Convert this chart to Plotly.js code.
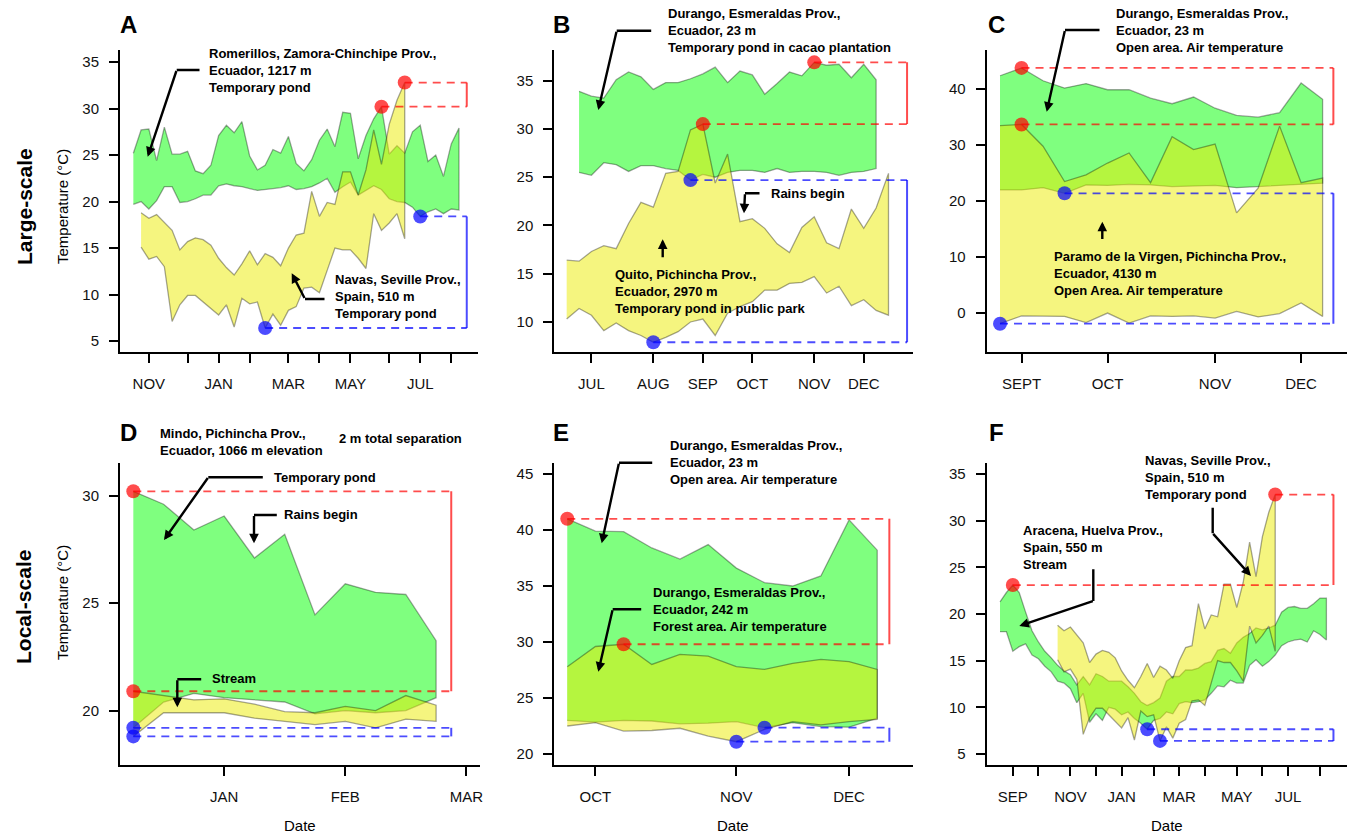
<!DOCTYPE html>
<html><head><meta charset="utf-8">
<script src="https://cdn.plot.ly/plotly-3.0.1.min.js"></script>
<style>html,body{margin:0;padding:0;background:#fff}#chart{width:1351px;height:834px}</style>
</head><body><div id="chart"></div>
<script>
// ---------------- DATA (weekly samples, temperatures in °C) ----------------
// Panel A / F: Navas, Seville Prov., Spain – temporary pond
const navasMax = [18.8,18.2,18.6,17.7,16.9,14.8,15.7,16.1,15.9,15.3,13.9,12.9,12.1,13.3,14.7,13.2,14.4,14.0,13.1,15.0,16.4,16.6,21.1,18.4,19.9,19.7,23.2,23.2,20.7,23.4,27.7,24.0,28.3,30.9,32.8];
const navasMin = [15.1,13.8,14.1,13.0,7.1,8.9,9.9,9.9,9.3,8.5,7.8,8.9,6.5,9.6,9.0,9.2,6.4,7.9,6.7,8.3,8.7,10.7,10.8,10.2,12.6,15.0,14.8,14.8,13.9,12.8,18.7,16.9,17.7,18.7,16.0];
// Panel A: Romerillos, Zamora-Chinchipe Prov., Ecuador – temporary pond
const romerillosMax = [25.2,27.7,27.8,24.4,28.0,25.1,25.1,25.4,23.3,23.0,23.9,27.1,28.2,27.4,28.6,24.9,23.4,23.9,25.6,25.2,27.0,24.1,23.3,24.5,26.6,27.8,25.9,29.6,29.5,24.6,27.1,28.9,30.2,25.1,26.0,25.2,27.5,28.2,24.3,25.0,22.7,26.2,27.9];
const romerillosMin = [19.7,20.0,19.2,20.1,21.6,21.6,19.9,20.0,20.3,20.7,20.7,21.7,21.9,21.7,21.6,21.4,21.2,21.3,21.4,21.5,21.7,21.3,21.4,21.6,22.0,22.5,21.0,21.6,22.1,20.7,21.2,21.7,21.3,20.3,20.0,19.9,19.4,18.4,18.9,19.2,18.7,19.2,19.1];
// Panel B: Durango cacao pond / Quito park pond
const durangoPondMax = [33.9,33.4,33.2,35.1,35.9,35.4,34.1,34.8,34.8,35.2,35.7,36.4,34.8,36.0,35.6,33.6,34.7,35.9,35.5,36.9,36.6,36.7,35.3,36.7,35.1];
const durangoPondMin = [25.5,25.2,26.5,26.3,25.6,26.2,26.2,25.9,25.7,24.7,25.3,25.0,25.5,25.7,25.7,25.5,25.9,25.5,25.6,25.6,25.5,25.2,25.5,25.6,25.9];
const quitoMax = [16.4,16.3,17.3,17.9,17.6,20.2,22.4,21.9,25.4,25.6,29.9,30.5,24.4,27.4,20.4,20.7,19.7,18.1,17.2,19.8,20.9,18.2,17.6,21.7,19.7,21.8,25.4];
const quitoMin = [10.3,11.4,10.7,9.1,9.9,9.1,8.6,7.9,8.4,9.0,10.0,10.3,8.6,10.9,11.6,12.1,13.3,13.3,14.0,14.1,14.7,13.0,13.7,11.7,12.3,11.2,10.7];
// Panel C: Durango open area air / Paramo de la Virgen air
const durangoAirMax = [42.4,43.8,41.5,40.2,41.0,39.9,39.9,38.4,37.4,38.6,36.6,35.3,35.0,35.8,41.1,38.2];
const durangoAirMin = [22.0,22.0,22.4,21.4,22.9,22.8,23.0,22.9,22.6,22.7,22.8,22.4,22.6,22.7,23.0,23.2];
const paramoMax = [33.5,33.7,29.8,23.5,24.7,26.8,28.6,23.3,31.5,29.2,30.2,17.9,22.3,33.4,23.3,24.1];
const paramoMin = [-1.9,-0.5,-0.5,-0.6,-1.7,0.0,-1.8,-0.5,-0.6,-0.5,-0.9,0.3,-0.7,-0.1,1.8,-0.6];
// Panel D: Mindo temporary pond / stream
const mindoPondMax = [30.2,29.6,28.4,29.05,27.1,28.2,24.45,25.9,25.5,25.4,23.25];
const mindoPondMin = [19.2,20.4,20.8,20.6,20.5,20.4,19.85,20.0,19.9,20.0,20.6];
const mindoStreamMax = [20.9,20.7,20.5,20.55,20.3,19.95,19.9,20.2,20.0,20.7,20.25];
const mindoStreamMin = [18.8,19.9,19.9,19.9,19.65,19.5,19.35,19.5,19.2,19.6,19.5];
// Panel E: Durango open area (23 m) / forest area (242 m)
const openAreaMax = [41.0,39.9,39.85,38.4,37.4,38.7,36.6,35.3,35.0,35.9,40.9,38.2];
const openAreaMin = [23.0,22.85,23.0,22.95,22.7,22.75,22.9,22.35,22.8,22.45,22.4,23.2];
const forestMax = [27.8,29.6,29.8,28.0,28.9,28.75,27.8,27.55,28.1,28.45,28.25,27.55];
const forestMin = [22.5,22.8,22.05,22.1,22.3,21.6,21.1,22.2,22.9,22.6,22.9,23.1];
// Panel F: Aracena stream
const aracenaMax = [21.3,22.3,23.1,22.3,20.2,18.2,17.0,16.0,15.3,14.5,13.9,13.5,12.4,13.3,12.4,13.6,13.3,12.8,12.8,12.8,12.2,11.5,10.6,10.2,10.5,11.0,12.8,13.3,13.3,14.0,14.0,14.2,14.7,14.9,16.1,16.3,15.8,16.9,17.5,17.9,18.5,18.3,18.5,18.8,20.2,20.7,20.8,20.6,20.6,21.1,21.7,21.7];
const aracenaMin = [18.1,18.1,16.0,16.5,16.8,15.6,15.2,14.4,13.8,12.8,12.6,12.0,10.5,11.5,8.4,9.3,8.6,10.0,9.8,9.2,9.5,8.8,8.3,7.65,8.6,8.8,9.5,9.3,10.4,10.6,10.5,10.6,10.8,11.5,12.3,12.2,12.9,12.6,12.6,14.5,15.1,14.4,14.9,15.6,16.6,17.0,17.2,17.3,17.0,18.2,17.8,17.2];
// Month tick labels
const monthsA = ['NOV','','JAN','','MAR','','MAY','','JUL',''];
const monthsB = ['JUL','AUG','SEP','OCT','NOV','DEC'];
const monthsC = ['SEPT','OCT','NOV','DEC'];
const monthsD = ['JAN','FEB','MAR'];
const monthsE = ['OCT','NOV','DEC'];
const monthsF = ['SEP','','NOV','','JAN','','MAR','','MAY','','JUL',''];

// ---------------- LAYOUT / STYLE CONFIG ----------------
const W = 1351, H = 834;
const FONT = 'Liberation Sans, Arial, Helvetica, sans-serif';
const FILL = {green:'rgba(0,255,0,0.5)', yellow:'rgba(235,235,0,0.5)'};
const EDGE = 'rgba(0,0,0,0.35)';
const RED = 'rgba(255,0,0,0.7)', BLUE = 'rgba(0,0,255,0.7)';

const panels = [
  {n:'', xdom:[120,478], ydom:[50,352], xr:[-1.72,44.45], yr:[3.82,36.3], t0:5, dt:5,
   tv:[2,7,11,15,20,24,28,33,37,41], tt:monthsA, bx:43.0,
   s:[{st:0,max:romerillosMax,min:romerillosMin,c:'green'},{st:1,max:navasMax,min:navasMin,c:'yellow'}]},
  {n:'2', xdom:[554.3,913], ydom:[50,352], xr:[-1.0,27.98], yr:[6.89,38.18], t0:10, dt:5,
   tv:[2,7,11,15,20,24], tt:monthsB, bx:27.5,
   s:[{st:1,max:durangoPondMax,min:durangoPondMin,c:'green'},{st:0,max:quitoMax,min:quitoMin,c:'yellow'}]},
  {n:'3', xdom:[986.7,1346.7], ydom:[50,352], xr:[-0.62,16.12], yr:[-6.96,47.0], t0:0, dt:10,
   tv:[1,5,10,14], tt:monthsC, bx:15.5,
   s:[{st:0,max:durangoAirMax,min:durangoAirMin,c:'green'},{st:0,max:paramoMax,min:paramoMin,c:'yellow'}]},
  {n:'4', xdom:[120,480], ydom:[462.7,765], xr:[-0.44,11.45], yr:[17.47,31.53], t0:20, dt:5,
   tv:[3,7,11], tt:monthsD, bx:10.5,
   s:[{st:0,max:mindoPondMax,min:mindoPondMin,c:'green'},{st:0,max:mindoStreamMax,min:mindoStreamMin,c:'yellow'}]},
  {n:'5', xdom:[554.3,913.3], ydom:[462.7,765], xr:[-0.46,12.28], yr:[19.02,46.01], t0:20, dt:5,
   tv:[1,6,10], tt:monthsE, bx:11.43,
   s:[{st:0,max:openAreaMax,min:openAreaMin,c:'green'},{st:0,max:forestMax,min:forestMin,c:'yellow'}]},
  {n:'6', xdom:[986.7,1346.7], ydom:[462.7,765], xr:[-2.08,54.17], yr:[3.82,36.21], t0:5, dt:5,
   tv:[2,6,11,15,19,24,28,32,37,41,45,50], tt:monthsF, bx:52.1,
   s:[{st:0,max:aracenaMax,min:aracenaMin,c:'green'},{st:9,max:navasMax,min:navasMin,c:'yellow'}]}
];

const traces = [];
const layout = {
  width:W, height:H, margin:{l:0,r:0,t:0,b:0}, paper_bgcolor:'#fff', plot_bgcolor:'rgba(0,0,0,0)',
  showlegend:false, font:{family:FONT, color:'#000'}, annotations:[], shapes:[]
};

panels.forEach(p => {
  const xa = 'x'+p.n, ya = 'y'+p.n;
  const axCommon = {ticks:'outside', ticklen:9, tickwidth:2, tickcolor:'#000', showline:true, linewidth:2,
    linecolor:'#000', showgrid:false, zeroline:false, fixedrange:true, tickfont:{size:15, color:'#111', family:FONT}};
  layout['xaxis'+p.n] = Object.assign({}, axCommon, {domain:[p.xdom[0]/W, p.xdom[1]/W], range:p.xr,
    tickmode:'array', tickvals:p.tv, ticktext:p.tt, anchor:ya, ticklabelstandoff:8});
  layout['yaxis'+p.n] = Object.assign({}, axCommon, {domain:[1-p.ydom[1]/H, 1-p.ydom[0]/H], range:p.yr,
    tick0:p.t0, dtick:p.dt, anchor:xa, ticklabelstandoff:7});

  // bands
  p.s.forEach(s => {
    const xs = s.max.map((_, i) => s.st + i);
    traces.push({type:'scatter', mode:'lines', xaxis:xa, yaxis:ya, hoverinfo:'skip',
      x: xs.concat(xs.slice().reverse()), y: s.max.concat(s.min.slice().reverse()),
      fill:'toself', fillcolor:FILL[s.c], line:{color:EDGE, width:1.3}});
  });
  // extremes
  const ext = [];
  p.s.forEach(s => {
    const hi = Math.max(...s.max), lo = Math.min(...s.min);
    ext.push({kind:'max', x:s.st + s.max.indexOf(hi), v:hi});
    ext.push({kind:'min', x:s.st + s.min.indexOf(lo), v:lo});
  });
  ['max','min'].forEach(k => {
    const col = k==='max' ? RED : BLUE;
    const pts = ext.filter(e => e.kind===k);
    pts.forEach(e => traces.push({type:'scatter', mode:'lines', xaxis:xa, yaxis:ya, hoverinfo:'skip',
      x:[e.x, p.bx], y:[e.v, e.v], line:{color:col, width:1.8, dash:'8px,6px'}}));
    traces.push({type:'scatter', mode:'lines', xaxis:xa, yaxis:ya, hoverinfo:'skip',
      x:[p.bx, p.bx], y:pts.map(e => e.v), line:{color:col, width:2}});
  });
  ['max','min'].forEach(k => {
    const pts = ext.filter(e => e.kind===k);
    traces.push({type:'scatter', mode:'markers', xaxis:xa, yaxis:ya, hoverinfo:'skip', cliponaxis:false,
      x:pts.map(e => e.x), y:pts.map(e => e.v), marker:{size:14, color:k==='max'?RED:BLUE, line:{width:0}}});
  });
});

// ---------------- ANNOTATIONS (page pixel positions) ----------------
const PX = x => x/W, PY = y => 1 - y/H;
function txt(text, x, y, size, opts) {
  return Object.assign({xref:'paper', yref:'paper', x:PX(x), y:PY(y), text, showarrow:false,
    xanchor:'left', yanchor:'middle', align:'left', font:{size:size, family:FONT, color:'#000'}}, opts||{});
}
const A = layout.annotations;
[['A',118,24],['B',551,24],['C',986,24],['D',118,432],['E',551,432],['F',987,432]]
  .forEach(l => A.push(txt('<b>'+l[0]+'</b>', l[1], l[2], 24)));
A.push(txt('<b>Large-scale</b>', 24, 207, 21, {textangle:-90, xanchor:'center'}));
A.push(txt('<b>Local-scale</b>', 23, 607, 21, {textangle:-90, xanchor:'center'}));
A.push(txt('Temperature (°C)', 62, 207, 15, {textangle:-90, xanchor:'center'}));
A.push(txt('Temperature (°C)', 62, 603, 15, {textangle:-90, xanchor:'center'}));
[[300,825],[733,825],[1167,825]].forEach(d => A.push(txt('Date', d[0], d[1], 15, {xanchor:'center'})));

const notes = [
  ['Romerillos, Zamora-Chinchipe Prov.,<br>Ecuador, 1217 m<br>Temporary pond', 207, 70],
  ['Navas, Seville Prov.,<br>Spain, 510 m<br>Temporary pond', 333, 296.7],
  ['Durango, Esmeraldas Prov.,<br>Ecuador, 23 m<br>Temporary pond in cacao plantation', 665.5, 30],
  ['Rains begin', 769, 193.3],
  ['Quito, Pichincha Prov.,<br>Ecuador, 2970 m<br>Temporary pond in public park', 613, 291.7],
  ['Durango, Esmeraldas Prov.,<br>Ecuador, 23 m<br>Open area. Air temperature', 1114, 30],
  ['Paramo de la Virgen, Pichincha Prov.,<br>Ecuador, 4130 m<br>Open Area. Air temperature', 1052, 273.3],
  ['Mindo, Pichincha Prov.,<br>Ecuador, 1066 m elevation', 158, 441.7],
  ['2 m total separation', 337, 439],
  ['Temporary pond', 272, 477.3],
  ['Rains begin', 281.5, 514.3],
  ['Stream', 209.5, 678.3],
  ['Durango, Esmeraldas Prov.,<br>Ecuador, 23 m<br>Open area. Air temperature', 668, 462.3],
  ['Durango, Esmeraldas Prov.,<br>Ecuador, 242 m<br>Forest area. Air temperature', 650.5, 609.3],
  ['Navas, Seville Prov.,<br>Spain, 510 m<br>Temporary pond', 1143, 477.3],
  ['Aracena, Huelva Prov.,<br>Spain, 550 m<br>Stream', 1020.5, 547.7]
];
notes.forEach(n => A.push(txt('<b>'+n[0].split('<br>').join('</b><br><b>')+'</b>', n[1], n[2], 13)));

const arrows = [
  [[200,70],[176.7,70],[147.7,156.7]],
  [[325,299],[305,299],[291.7,273.3]],
  [[651.7,30.7],[616.7,30.7],[598.3,110]],
  [[760,193.3],[745,193.3],[744,213.3]],
  [[662.7,258.3],[662.7,239.3]],
  [[1100,30],[1065,30],[1046.7,111.7]],
  [[1102.3,240],[1102.3,221.7]],
  [[263.3,477.3],[208.3,477.3],[164,540]],
  [[277.3,515],[254,515],[254,543.3]],
  [[201.7,679.3],[177.3,679.3],[177.3,707.3]],
  [[652.7,462.7],[619,462.7],[601.7,543.3]],
  [[641.7,609.3],[612.7,609.3],[598.3,671.7]],
  [[1212.7,506.7],[1212.7,533.3],[1251,576]],
  [[1093.3,568.3],[1093.3,601],[1019.3,626]]
];
arrows.forEach(pl => {
  for (let i = 0; i < pl.length-1; i++) {
    const a = pl[i], b = pl[i+1], last = (i === pl.length-2);
    A.push({xref:'paper', yref:'paper', x:PX(b[0]), y:PY(b[1]), axref:'pixel', ayref:'pixel',
      ax:a[0]-b[0], ay:a[1]-b[1], text:' ', font:{size:1}, borderpad:0, showarrow:true,
      arrowhead:last?2:0, arrowsize:0.8, arrowwidth:2.4, arrowcolor:'#000', standoff:0, startstandoff:0});
  }
});

Plotly.newPlot('chart', traces, layout, {staticPlot:true, displayModeBar:false});
</script>
</body></html>
